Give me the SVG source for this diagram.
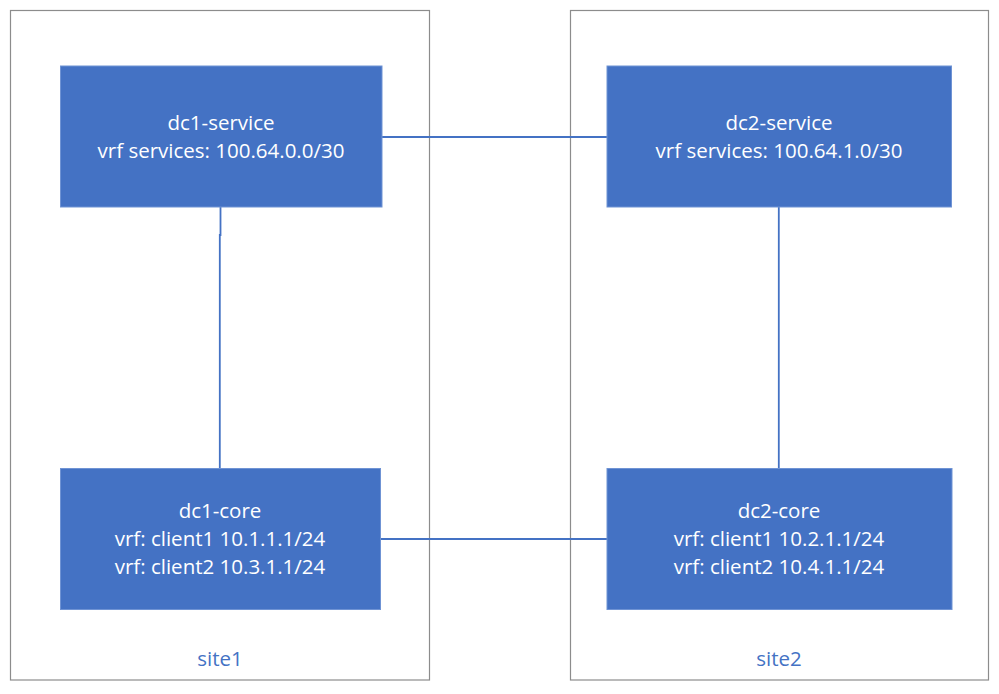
<svg xmlns="http://www.w3.org/2000/svg" width="999" height="694" viewBox="0 0 999 694">
<style>
.site{fill:#fff;stroke:#8c8c8c;stroke-width:1.2}
.node{fill:#4472C4;stroke:#6f93d4;stroke-width:1}
.lbl{font-family:"Open Sans","Liberation Sans",sans-serif;font-size:20.5px;fill:#fff;text-anchor:middle}
.slbl{font-family:"Open Sans","Liberation Sans",sans-serif;font-size:20.5px;fill:#4472C4;text-anchor:middle}
.conn{fill:none;stroke:#4472C4;stroke-width:1.8}
</style>
<rect width="999" height="694" fill="#fff"/>
<g id="site1">
<rect class="site" x="10.5" y="10.5" width="419" height="669.5"/>
<text class="slbl" x="220" y="666">site1</text>
</g>
<g id="site2">
<rect class="site" x="570.5" y="10.5" width="418" height="669.5"/>
<text class="slbl" x="779" y="666">site2</text>
</g>
<g id="connectors">
<path class="conn" d="M382 137H607"/>
<path class="conn" d="M381 539H607"/>
<path class="conn" d="M220.5 207V235H219.8V468"/>
<path class="conn" d="M778.8 207V468"/>
</g>
<g id="dc1-service">
<rect class="node" x="60.5" y="66" width="321.5" height="141"/>
<text class="lbl" x="221" y="130">dc1-service</text>
<text class="lbl" x="221" y="158">vrf services: 100.64.0.0/30</text>
</g>
<g id="dc2-service">
<rect class="node" x="607" y="66" width="344.5" height="141"/>
<text class="lbl" x="779" y="130">dc2-service</text>
<text class="lbl" x="779" y="158">vrf services: 100.64.1.0/30</text>
</g>
<g id="dc1-core">
<rect class="node" x="60.5" y="468.5" width="320" height="141"/>
<text class="lbl" x="220" y="518">dc1-core</text>
<text class="lbl" x="220" y="546">vrf: client1 10.1.1.1/24</text>
<text class="lbl" x="220" y="574">vrf: client2 10.3.1.1/24</text>
</g>
<g id="dc2-core">
<rect class="node" x="607" y="468.5" width="345" height="141"/>
<text class="lbl" x="779" y="518">dc2-core</text>
<text class="lbl" x="779" y="546">vrf: client1 10.2.1.1/24</text>
<text class="lbl" x="779" y="574">vrf: client2 10.4.1.1/24</text>
</g>
</svg>
